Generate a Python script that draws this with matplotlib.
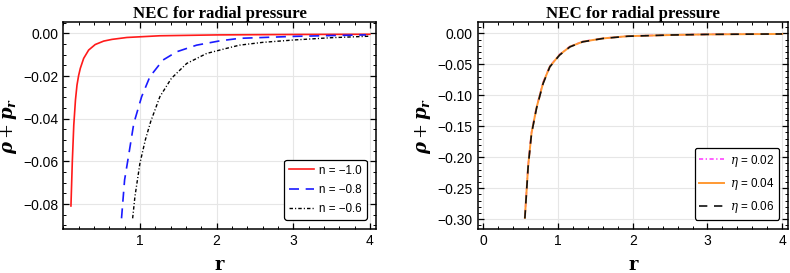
import matplotlib.pyplot as plt
from matplotlib.ticker import FixedLocator, MultipleLocator

plt.rcParams["mathtext.fontset"] = "dejavuserif"

# --- left panel: n variations ---
r_n10 = [0.100, 0.118, 0.137, 0.159, 0.179, 0.200, 0.222, 0.266, 0.331, 0.417, 0.527, 0.635, 0.83,
         1.26, 2.0, 3.0, 4.0]
y_n10 = [-0.0809, -0.060, -0.043, -0.0312, -0.0242, -0.0198, -0.0164, -0.0117, -0.0078, -0.0052, -0.0036,
         -0.0028, -0.0019, -0.0011, -0.0007, -0.0005, -0.0004]
r_n08 = [0.76, 0.80, 0.85, 0.92, 1.022, 1.13, 1.30, 1.48, 1.74, 2.04, 2.30, 3.0, 3.5, 3.95]
y_n08 = [-0.0867, -0.0687, -0.0578, -0.0422, -0.0297, -0.0203, -0.0125, -0.0086, -0.0055, -0.0035, -0.0023,
         -0.0014, -0.0010, -0.0007]
r_n06 = [0.905, 0.935, 1.0, 1.07, 1.14, 1.26, 1.41, 1.61, 1.87, 2.13, 2.30, 2.6, 3.0, 3.5, 4.0]
y_n06 = [-0.0867, -0.0765, -0.0609, -0.050, -0.0414, -0.0297, -0.0211, -0.0141, -0.0094, -0.0070, -0.0055,
         -0.0042, -0.0031, -0.0020, -0.0013]

# --- right panel: eta variations ---
r_eta = [0.556, 0.60, 0.645, 0.712, 0.80, 0.89, 1.02, 1.16, 1.33, 1.6, 1.93, 2.5, 3.0, 3.5, 4.0]
y_eta02 = [-0.297, -0.213, -0.160, -0.119, -0.079, -0.053, -0.034, -0.0210, -0.0131, -0.0078, -0.0043,
           -0.0024, -0.0014, -0.0010, -0.0007]
y_eta04 = [-0.298, -0.214, -0.161, -0.120, -0.080, -0.0535, -0.0345, -0.0213, -0.0133, -0.0080, -0.0044,
           -0.0025, -0.0015, -0.0011, -0.0008]
y_eta06 = [-0.299, -0.215, -0.162, -0.121, -0.081, -0.054, -0.035, -0.0216, -0.0135, -0.0081, -0.0045,
           -0.0025, -0.0015, -0.0011, -0.0008]


def style_axes(ax, xmajor, xminor, ymajor, yminor):
    ax.set_title("NEC for radial pressure", fontfamily="Liberation Serif", fontweight="bold",
                 fontsize=12.2, pad=3)
    ax.set_xlabel("r", fontfamily="DejaVu Serif", fontweight="bold", fontsize=13, labelpad=6)
    ax.set_ylabel(r"$\mathbfit{\rho} + \mathbfit{p}_{\mathbfit{r}}$", fontsize=13, labelpad=3)
    ax.xaxis.set_major_locator(FixedLocator(xmajor))
    ax.xaxis.set_minor_locator(MultipleLocator(xminor))
    ax.yaxis.set_major_locator(MultipleLocator(ymajor))
    ax.yaxis.set_minor_locator(MultipleLocator(yminor))
    ax.yaxis.set_major_formatter(lambda v, p: f"{v:.2f}".replace("-", "\u2212"))
    ax.tick_params(which="both", direction="in", top=True, right=True, labelsize=10)
    ax.tick_params(which="major", length=4, width=0.9)
    ax.tick_params(which="minor", length=2, width=0.7)
    ax.grid(True, which="major", color="#e6e6e6", linewidth=0.8)
    ax.set_axisbelow(True)
    for sp in ax.spines.values():
        sp.set_linewidth(1.1)
    for lab in ax.get_xticklabels() + ax.get_yticklabels():
        lab.set_fontfamily("Liberation Sans")
    leg = ax.legend(loc="lower right", frameon=True, fancybox=True,
                    handlelength=2.1, handletextpad=0.5, borderaxespad=0.8, labelspacing=0.62,
                    prop={"family": "Liberation Sans", "size": 8.4})
    leg.get_frame().set_edgecolor("black")
    leg.get_frame().set_linewidth(0.9)
    leg.get_frame().set_alpha(1)


fig = plt.figure(figsize=(7.9, 2.73), dpi=100)
ax1 = fig.add_axes([0.0801, 0.1612, 0.3958, 0.757])
ax2 = fig.add_axes([0.6047, 0.1612, 0.3930, 0.757])

ax1.plot(r_n10, y_n10, color="#ff1a1a", lw=1.2, label="n = \u22121.0")
ax1.plot(r_n08, y_n08, color="#1a1aff", lw=1.2, dashes=(6, 4), label="n = \u22120.8")
ax1.plot(r_n06, y_n06, color="black", lw=1.0, dashes=(2.5, 1.5, 0.8, 1.5), label="n = \u22120.6")
ax1.set_xlim(0.0, 4.08)
ax1.set_ylim(-0.0917, 0.0052)
style_axes(ax1, [1, 2, 3, 4], 0.2, 0.02, 0.005)

ax2.plot(r_eta, y_eta02, color="#ff44ff", lw=1.2, dashes=(2.5, 1.5, 0.8, 1.5), label=r"$\eta$ = 0.02")
ax2.plot(r_eta, y_eta04, color="#ff9933", lw=1.4, label=r"$\eta$ = 0.04")
ax2.plot(r_eta, y_eta06, color="#111111", lw=1.2, dashes=(5, 4), label=r"$\eta$ = 0.06")
ax2.set_xlim(-0.075, 4.08)
ax2.set_ylim(-0.316, 0.018)
style_axes(ax2, [0, 1, 2, 3, 4], 0.2, 0.05, 0.01)

fig.savefig("out.png", dpi=100)
